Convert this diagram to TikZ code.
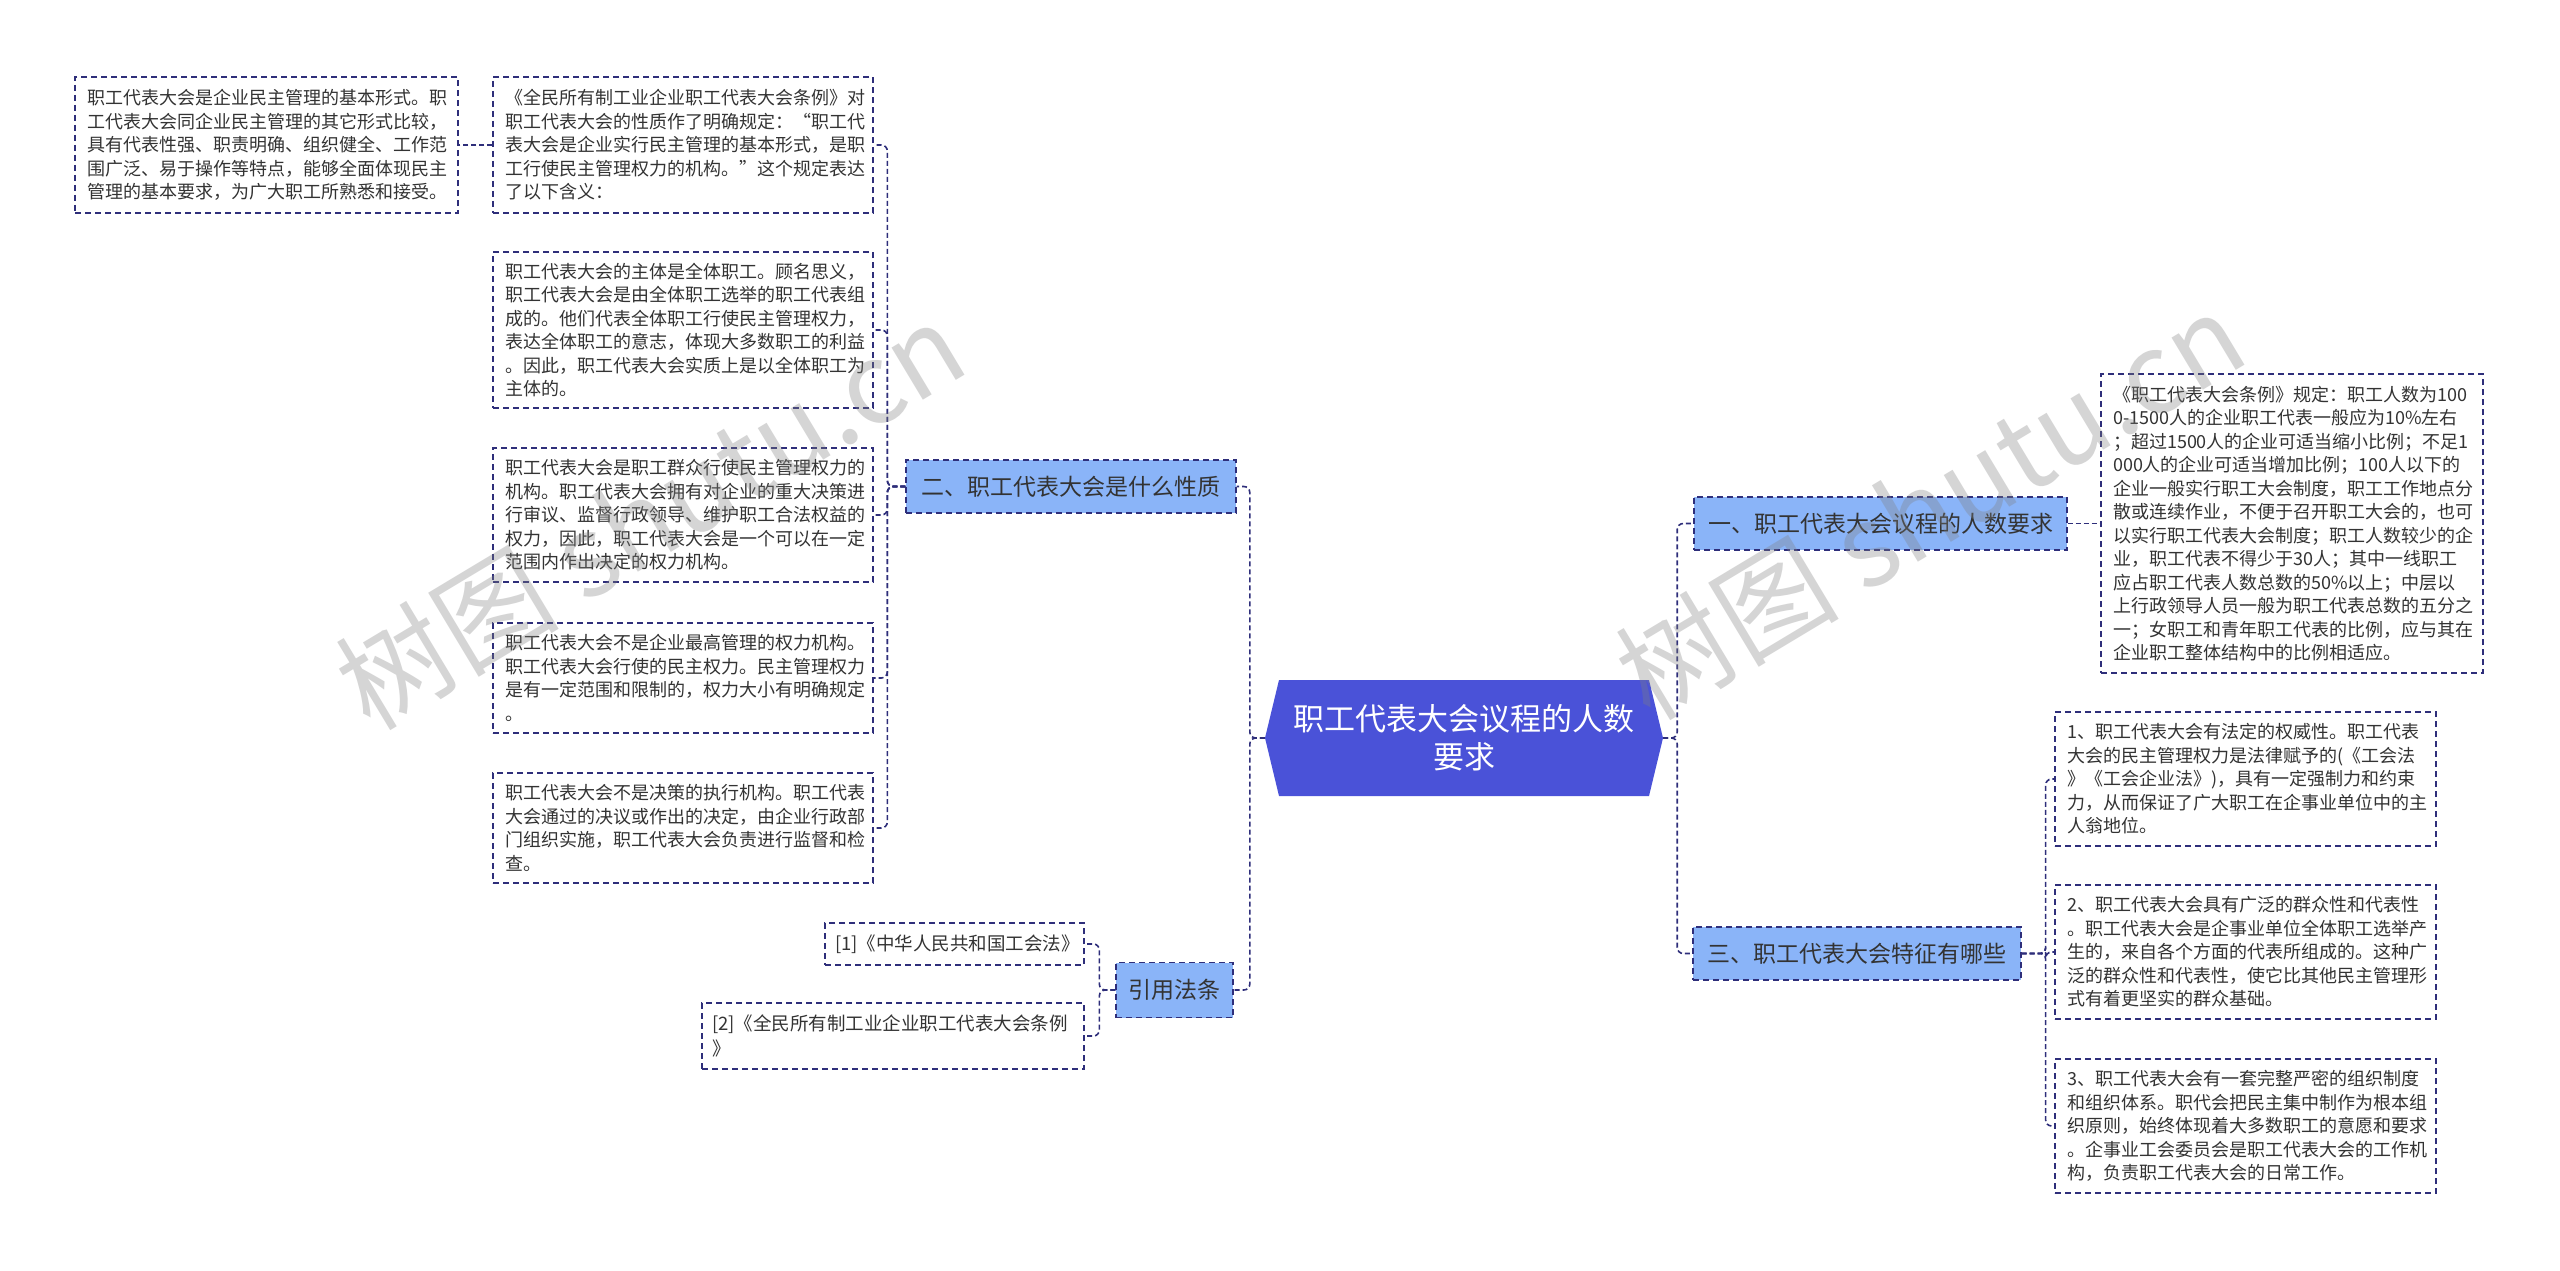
\documentclass[tikz,border=0pt]{standalone}
\usepackage{fontspec}
\setmainfont{Noto Sans CJK SC}
\usetikzlibrary{calc}
\definecolor{navy}{HTML}{2E2E7A}
\definecolor{bfill}{HTML}{8AB4F8}
\definecolor{cfill}{HTML}{4A52D8}
\definecolor{txt}{HTML}{333333}
\begin{document}
\begin{tikzpicture}[x=1pt,y=-1pt,
 box/.style={draw=navy, line width=1.3pt, dash pattern=on 6pt off 4pt},
 leaf/.style={box, fill=white, text=txt, font=\fontsize{18}{23.5}\selectfont, align=left, inner xsep=12pt, inner ysep=0pt},
 refbox/.style={leaf, font=\fontsize{18.5}{25}\selectfont, inner xsep=10pt},
 branch/.style={box, fill=bfill, text=txt, font=\fontsize{23}{28}\selectfont, align=center, inner sep=0pt},
 conn/.style={draw=navy, line width=1.6pt, dash pattern=on 5pt off 3pt, rounded corners=6pt},
 wm/.style={text=gray, opacity=0.33, font=\fontsize{112}{112}\selectfont, rotate=31}
]
\useasboundingbox (0,0) rectangle (2560,1271);
\fill[white] (0,0) rectangle (2560,1271);

% centre
\fill[cfill] (1265,738) -- (1279,680) -- (1649,680) -- (1663,738) -- (1649,796) -- (1279,796) -- cycle;
\node[minimum width=398pt, minimum height=116pt, inner sep=0pt, text=white, font=\fontsize{31}{38}\selectfont, align=center] (c) at (1464,738) {职工代表大会议程的人数\\要求};

% branches
\node[branch, minimum width=330pt, minimum height=53pt] (n2) at (1071,486.5) {二、职工代表大会是什么性质};
\node[branch, minimum width=117pt, minimum height=55pt] (n4) at (1174.5,990) {引用法条};
\node[branch, minimum width=373pt, minimum height=53pt] (n1) at (1880.5,523.5) {一、职工代表大会议程的人数要求};
\node[branch, minimum width=328pt, minimum height=53pt] (n3) at (1857,953.5) {三、职工代表大会特征有哪些};

% left leaves
\node[leaf, minimum height=136pt, text width=359pt] (a) at (266.5,145) {职工代表大会是企业民主管理的基本形式。职\\工代表大会同企业民主管理的其它形式比较，\\具有代表性强、职责明确、组织健全、工作范\\围广泛、易于操作等特点，能够全面体现民主\\管理的基本要求，为广大职工所熟悉和接受。};
\node[leaf, minimum height=136pt, text width=356pt] (b) at (683,145) {《全民所有制工业企业职工代表大会条例》对\\职工代表大会的性质作了明确规定：“职工代\\表大会是企业实行民主管理的基本形式，是职\\工行使民主管理权力的机构。”这个规定表达\\了以下含义：};
\node[leaf, minimum height=156pt, text width=356pt] (cc) at (683,330) {职工代表大会的主体是全体职工。顾名思义，\\职工代表大会是由全体职工选举的职工代表组\\成的。他们代表全体职工行使民主管理权力，\\表达全体职工的意志，体现大多数职工的利益\\。因此，职工代表大会实质上是以全体职工为\\主体的。};
\node[leaf, minimum height=134pt, text width=356pt] (d) at (683,515) {职工代表大会是职工群众行使民主管理权力的\\机构。职工代表大会拥有对企业的重大决策进\\行审议、监督行政领导、维护职工合法权益的\\权力，因此，职工代表大会是一个可以在一定\\范围内作出决定的权力机构。};
\node[leaf, minimum height=110pt, text width=356pt] (e) at (683,678) {职工代表大会不是企业最高管理的权力机构。\\职工代表大会行使的民主权力。民主管理权力\\是有一定范围和限制的，权力大小有明确规定\\。};
\node[leaf, minimum height=110pt, text width=356pt] (f) at (683,828) {职工代表大会不是决策的执行机构。职工代表\\大会通过的决议或作出的决定，由企业行政部\\门组织实施，职工代表大会负责进行监督和检\\查。};
\node[refbox, minimum height=42pt, text width=239pt] (r1) at (954.5,944) {[1]《中华人民共和国工会法》};
\node[refbox, minimum height=66pt, text width=362pt] (r2) at (893,1036) {[2]《全民所有制工业企业职工代表大会条例\\》};

% right leaves
\node[leaf, minimum height=299pt, text width=358pt] (q1) at (2292,523.5) {《职工代表大会条例》规定：职工人数为100\\0-1500人的企业职工代表一般应为10\%左右\\；超过1500人的企业可适当缩小比例；不足1\\000人的企业可适当增加比例；100人以下的\\企业一般实行职工大会制度，职工工作地点分\\散或连续作业，不便于召开职工大会的，也可\\以实行职工代表大会制度；职工人数较少的企\\业，职工代表不得少于30人；其中一线职工\\应占职工代表人数总数的50\%以上；中层以\\上行政领导人员一般为职工代表总数的五分之\\一；女职工和青年职工代表的比例，应与其在\\企业职工整体结构中的比例相适应。};
\node[leaf, minimum height=134pt, text width=357pt] (q2) at (2245.5,779) {1、职工代表大会有法定的权威性。职工代表\\大会的民主管理权力是法律赋予的(《工会法\\》《工会企业法》)，具有一定强制力和约束\\力，从而保证了广大职工在企事业单位中的主\\人翁地位。};
\node[leaf, minimum height=134pt, text width=357pt] (q3) at (2245.5,952) {2、职工代表大会具有广泛的群众性和代表性\\。职工代表大会是企事业单位全体职工选举产\\生的，来自各个方面的代表所组成的。这种广\\泛的群众性和代表性，使它比其他民主管理形\\式有着更坚实的群众基础。};
\node[leaf, minimum height=134pt, text width=357pt] (q4) at (2245.5,1126) {3、职工代表大会有一套完整严密的组织制度\\和组织体系。职代会把民主集中制作为根本组\\织原则，始终体现着大多数职工的意愿和要求\\。企事业工会委员会是职工代表大会的工作机\\构，负责职工代表大会的日常工作。};

% connectors
\draw[conn] (c.west) -- ++(-15,0) |- (n2.east);
\draw[conn] (c.west) -- ++(-15,0) |- (n4.east);
\draw[conn] (c.east) -- ++(14,0) |- (n1.west);
\draw[conn] (c.east) -- ++(14,0) |- (n3.west);
\foreach \t in {b,cc,d,e,f} \draw[conn] (n2.west) -- ++(-18,0) |- (\t.east);
\draw[conn] (b.west) -- (a.east);
\foreach \t in {r1,r2} \draw[conn] (n4.west) -- ++(-16,0) |- (\t.east);
\draw[conn] (n1.east) -- (q1.west);
\foreach \t in {q2,q3,q4} \draw[conn] (n3.east) -- ++(24,0) |- (\t.west);

% watermarks
\node[wm] (wm1) at (650,515) {树图 shutu.cn};
\node[wm] (wm2) at (1930,505) {树图 shutu.cn};
\end{tikzpicture}
\end{document}
